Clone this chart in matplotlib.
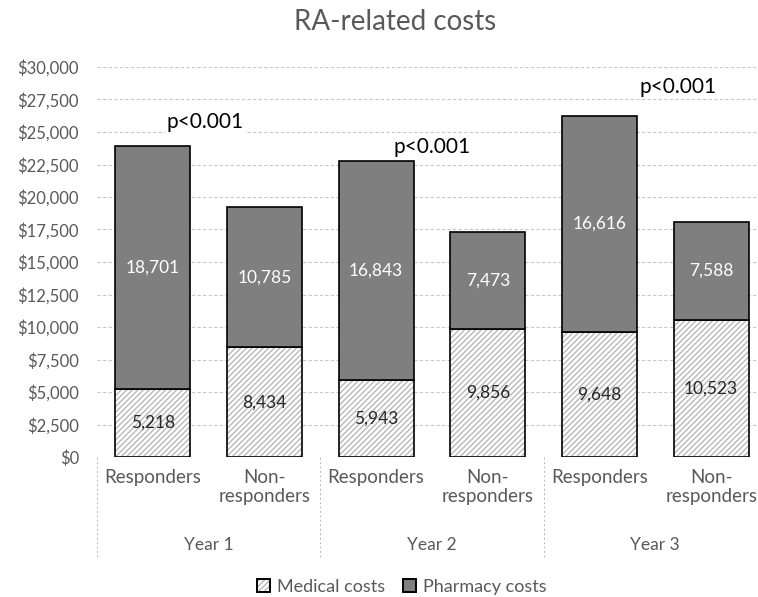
import matplotlib.pyplot as plt
import numpy as np
from matplotlib.patches import Patch
from matplotlib.ticker import FuncFormatter

plt.rcParams['font.family'] = ['Lato', 'DejaVu Sans']

# data
groups = ["Year 1", "Year 2", "Year 3"]
categories = ["Responders", "Non-\nresponders"] * 3
medical = [5218, 8434, 5943, 9856, 9648, 10523]
pharmacy = [18701, 10785, 16843, 7473, 16616, 7588]
p_labels = ["p<0.001", "p<0.001", "p<0.001"]
p_x = [0.47, 2.5, 4.7]
p_y = [25770, 23850, 28460]

grey_txt = "#595959"
fig = plt.figure(figsize=(7.58, 5.97), dpi=100)
ax = fig.add_axes([97 / 758, 1 - 457 / 597, 670 / 758, 390 / 597])

x = np.arange(len(categories))
w = 0.67

# medical costs: hatched fill, then black outline on top
ax.bar(x, medical, w, color="white", edgecolor="#b8b8b8", hatch="//////", linewidth=0, zorder=2)
ax.bar(x, medical, w, fill=False, edgecolor="black", linewidth=1.2, zorder=3)
ax.bar(x, pharmacy, w, bottom=medical, color="#7f7f7f", edgecolor="black", linewidth=1.2, zorder=3)

for i in range(len(x)):
    ax.text(x[i], medical[i] / 2, f"{medical[i]:,}", ha="center", va="center",
            fontsize=12.5, color="#262626", zorder=4)
    ax.text(x[i], medical[i] + pharmacy[i] / 2, f"{pharmacy[i]:,}", ha="center", va="center",
            fontsize=12.5, color="white", zorder=4)

for px, py, lab in zip(p_x, p_y, p_labels):
    ax.text(px, py, lab, ha="center", va="center", fontsize=15, color="black", zorder=4,
            bbox=dict(facecolor="white", edgecolor="none", pad=1))

ax.set_xlim(-0.5, 5.5)
ax.set_ylim(0, 30000)
ax.set_yticks(np.arange(0, 30001, 2500))
ax.yaxis.set_major_formatter(FuncFormatter(lambda v, p: f"${int(v):,}"))
ax.tick_params(axis="y", length=0, labelsize=12, labelcolor=grey_txt, pad=13)
ax.set_xticks([])
ax.grid(axis="y", color="#c8c8c8", linestyle=(0, (3, 2)), linewidth=0.8, zorder=0)
for s in ax.spines.values():
    s.set_visible(False)

# category labels and group labels below the axis
trans = ax.get_xaxis_transform()
for i, lab in enumerate(categories):
    ax.text(x[i], -0.03, lab, ha="center", va="top", fontsize=13.5, color=grey_txt,
            transform=trans, linespacing=1.15)
for g, lab in enumerate(groups):
    ax.text(2 * g + 0.5, -0.225, lab, ha="center", va="center", fontsize=12.5,
            color=grey_txt, transform=trans)
for b in [-0.5, 1.5, 3.5, 5.5]:
    ax.plot([b, b], [0, -0.258], transform=trans, clip_on=False, color="#c0c0c0",
            linestyle=(0, (2, 2)), linewidth=0.8)

h_med = (Patch(facecolor="white", edgecolor="#b8b8b8", hatch="//////", linewidth=0),
         Patch(fill=False, edgecolor="black", linewidth=1.4))
h_pha = Patch(facecolor="#7f7f7f", edgecolor="black", linewidth=1.4)
fig.legend([h_med, h_pha], ["Medical costs", "Pharmacy costs"], loc="center",
           bbox_to_anchor=(402 / 758, 1 - 587 / 597), ncol=2, frameon=False,
           fontsize=13, labelcolor=grey_txt, handlelength=0.7, handleheight=0.7,
           handletextpad=0.4, columnspacing=1.0)

fig.text(395 / 758, 1 - 22 / 597, "RA-related costs", ha="center", va="center",
         fontsize=20, color=grey_txt)

fig.savefig("out.png", dpi=100)
